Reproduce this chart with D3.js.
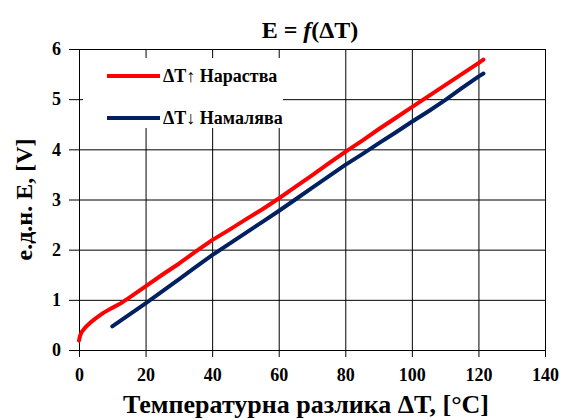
<!DOCTYPE html>
<html>
<head>
<meta charset="utf-8">
<script src="https://cdn.jsdelivr.net/npm/d3@7"></script>
<style>
  body { margin: 0; background: #fff; }
</style>
</head>
<body>
<div id="chart"></div>
<script>
// dT rising (red)
var riseX = [0, 0.3, 0.8, 2, 3.3, 5, 7.3, 10, 12.3, 15, 20, 25, 30, 35, 40, 45, 50, 55, 60, 65, 70, 75, 80, 85, 90, 95, 100, 105, 110, 115, 120, 121.5];
var riseY = [0.19, 0.28, 0.36, 0.46, 0.54, 0.63, 0.74, 0.84, 0.92, 1.04, 1.27, 1.5, 1.72, 1.96, 2.19, 2.39, 2.6, 2.8, 3.02, 3.25, 3.48, 3.72, 3.95, 4.17, 4.4, 4.62, 4.84, 5.06, 5.28, 5.5, 5.72, 5.79];
// dT falling (dark blue)
var fallX = [10, 15, 20, 25, 30, 35, 40, 45, 50, 55, 60, 65, 70, 75, 80, 85, 90, 95, 100, 105, 110, 115, 120, 121.5];
var fallY = [0.47, 0.7, 0.93, 1.17, 1.41, 1.65, 1.89, 2.11, 2.33, 2.55, 2.77, 3.0, 3.23, 3.46, 3.69, 3.9, 4.12, 4.33, 4.55, 4.76, 4.98, 5.22, 5.45, 5.51];

var xTicks = [0, 20, 40, 60, 80, 100, 120, 140];
var yTicks = [0, 1, 2, 3, 4, 5, 6];
var seriesNames = ["ΔT↑ Нараства", "ΔT↓ Намалява"];
var seriesColors = ["#ff0000", "#002060"];

var FONT = "'Liberation Serif', 'Times New Roman', serif";
var W = 564, H = 419;
var m = {left: 79, right: 19, top: 49, bottom: 69};
var pw = W - m.left - m.right, ph = H - m.top - m.bottom;

var svg = d3.select("#chart").append("svg")
    .attr("width", W)
    .attr("height", H)
    .attr("font-family", FONT)
    .attr("font-weight", "bold");

var x = d3.scaleLinear().domain([0, 140]).range([m.left, W - m.right]);
var y = d3.scaleLinear().domain([0, 6]).range([H - m.bottom, m.top]);

/*grid, drawn as long axis ticks*/
svg.append("g")
    .attr("transform", "translate(" + m.left + ",0)")
    .call(d3.axisRight(y).tickValues(yTicks.slice(1)).tickSize(pw).tickFormat(""))
    .call(function(g){ g.select(".domain").remove(); })
    .selectAll("line").attr("stroke", "#000").attr("stroke-width", 1);
svg.append("g")
    .attr("transform", "translate(0," + m.top + ")")
    .call(d3.axisBottom(x).tickValues(xTicks.slice(1)).tickSize(ph).tickFormat(""))
    .call(function(g){ g.select(".domain").remove(); })
    .selectAll("line").attr("stroke", "#000").attr("stroke-width", 1);

/*axes*/
var xAxis = svg.append("g")
    .attr("transform", "translate(0," + y(0) + ")")
    .call(d3.axisBottom(x).tickValues(xTicks).tickFormat(d3.format("d")).tickSize(7).tickPadding(11));
var yAxis = svg.append("g")
    .attr("transform", "translate(" + x(0) + ",0)")
    .call(d3.axisLeft(y).tickValues(yTicks).tickFormat(d3.format("d")).tickSize(10).tickPadding(8));
[xAxis, yAxis].forEach(function(a){
    a.attr("font-family", FONT).attr("font-size", 18).attr("font-weight", "bold");
    a.select(".domain").attr("stroke", "#000");
    a.selectAll(".tick line").attr("stroke", "#000");
    a.selectAll("text").attr("fill", "#000");
});

/*lines*/
var line = d3.line()
    .x(function(d){ return x(d[0]); })
    .y(function(d){ return y(d[1]); });

var riseData = d3.zip(riseX, riseY);
var fallData = d3.zip(fallX, fallY);

[[fallData, seriesColors[1]], [riseData, seriesColors[0]]].forEach(function(s){
    svg.append("path")
        .datum(s[0])
        .attr("d", line)
        .attr("fill", "none")
        .attr("stroke", s[1])
        .attr("stroke-width", 4)
        .attr("stroke-linecap", "round")
        .attr("stroke-linejoin", "round");
});

/*legend*/
svg.append("rect")
    .attr("x", 83).attr("y", 58)
    .attr("width", 200).attr("height", 70)
    .attr("fill", "#fff");
seriesNames.forEach(function(name, i){
    var ly = 76 + i * 42;
    svg.append("line")
        .attr("x1", 107).attr("x2", 160)
        .attr("y1", ly).attr("y2", ly)
        .attr("stroke", seriesColors[i])
        .attr("stroke-width", 4);
    svg.append("text")
        .attr("x", 163).attr("y", ly + 6)
        .attr("font-size", 18)
        .text(name);
});

/*titles*/
var title = svg.append("text")
    .attr("x", 310).attr("y", 38)
    .attr("text-anchor", "middle")
    .attr("font-size", 24);
title.append("tspan").text("E = ");
title.append("tspan").attr("font-style", "italic").text("f");
title.append("tspan").text("(ΔT)");

svg.append("text")
    .attr("x", 306).attr("y", 413)
    .attr("text-anchor", "middle")
    .attr("font-size", 26)
    .text("Температурна разлика ΔT, [°C]");

svg.append("text")
    .attr("transform", "translate(32," + y(3) + ") rotate(-90)")
    .attr("text-anchor", "middle")
    .attr("font-size", 24)
    .text("е.д.н. E, [V]");
</script>
</body>
</html>
